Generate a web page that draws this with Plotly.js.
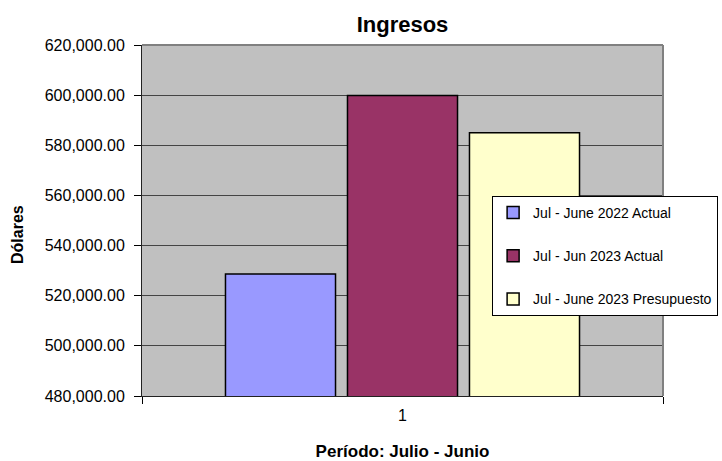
<!DOCTYPE html>
<html>
<head>
<meta charset="utf-8">
<script src="https://cdn.plot.ly/plotly-3.0.1.min.js"></script>
<style>html,body{margin:0;padding:0;background:#fff;}#chart{width:722px;height:461px;}</style>
</head>
<body>
<div id="chart"></div>
<script>
var categories = ["1"];
var seriesNames = ["Jul - June 2022 Actual", "Jul - Jun 2023 Actual", "Jul - June 2023 Presupuesto"];
var actual2022 = [528700];
var actual2023 = [599900];
var presupuesto2023 = [585000];
var seriesColors = ["#9999FF", "#993366", "#FFFFCC"];

var seriesValues = [actual2022, actual2023, presupuesto2023];
var traces = seriesValues.map(function (vals, i) {
  return {
    type: "bar",
    x: categories,
    y: vals,
    name: seriesNames[i],
    legendgroup: "g" + i,
    marker: { color: seriesColors[i], line: { color: "#000000", width: 1.5 } },
    hoverinfo: "none"
  };
});

var layout = {
  width: 722,
  height: 461,
  margin: { l: 142, r: 59, t: 45, b: 65, pad: 0, autoexpand: false },
  paper_bgcolor: "#ffffff",
  plot_bgcolor: "#C0C0C0",
  font: { family: "Liberation Sans, Arial, sans-serif", size: 16, color: "#000" },
  title: {
    text: "<b>Ingresos</b>",
    font: { size: 22, color: "#000" },
    x: 0.5575, xanchor: "center",
    y: 0.948, yanchor: "middle"
  },
  barmode: "group",
  bargap: 0.2975,
  bargroupgap: 0.098,
  showlegend: true,
  legend: {
    x: 0.672, xanchor: "left",
    y: 0.57, yanchor: "top",
    bgcolor: "#ffffff",
    bordercolor: "#000000",
    borderwidth: 1,
    font: { size: 14, color: "#000" },
    tracegroupgap: 22,
    traceorder: "grouped"
  },
  xaxis: {
    type: "category",
    tickson: "boundaries",
    ticks: "outside",
    ticklen: 7,
    tickcolor: "#000",
    showline: true,
    linecolor: "#222",
    linewidth: 1,
    showgrid: false,
    zeroline: false,
    tickfont: { size: 16 },
    ticklabelstandoff: 5,
    title: { text: "<b>Período: Julio - Junio</b>", font: { size: 17 }, standoff: 24 }
  },
  yaxis: {
    range: [480000, 620000],
    dtick: 20000,
    tick0: 480000,
    tickformat: ",.2f",
    ticks: "outside",
    ticklen: 7,
    tickcolor: "#000",
    showline: true,
    linecolor: "#222",
    linewidth: 1,
    showgrid: true,
    gridcolor: "#444444",
    gridwidth: 1,
    zeroline: false,
    tickfont: { size: 16 },
    ticklabelstandoff: 6
  },
  annotations: [
    {
      text: "<b>Dólares</b>",
      xref: "paper", yref: "paper",
      x: -0.24, y: 0.4615,
      xanchor: "center", yanchor: "middle",
      textangle: -90,
      showarrow: false,
      font: { size: 16, color: "#000" }
    }
  ],
  shapes: [
    { type: "line", xref: "paper", yref: "paper", x0: 0, x1: 1, y0: 1, y1: 1, line: { color: "#808080", width: 2 } },
    { type: "line", xref: "paper", yref: "paper", x0: 1, x1: 1, y0: 0, y1: 1, line: { color: "#808080", width: 2 } }
  ]
};

Plotly.newPlot("chart", traces, layout, { displayModeBar: false, staticPlot: true });
</script>
</body>
</html>
